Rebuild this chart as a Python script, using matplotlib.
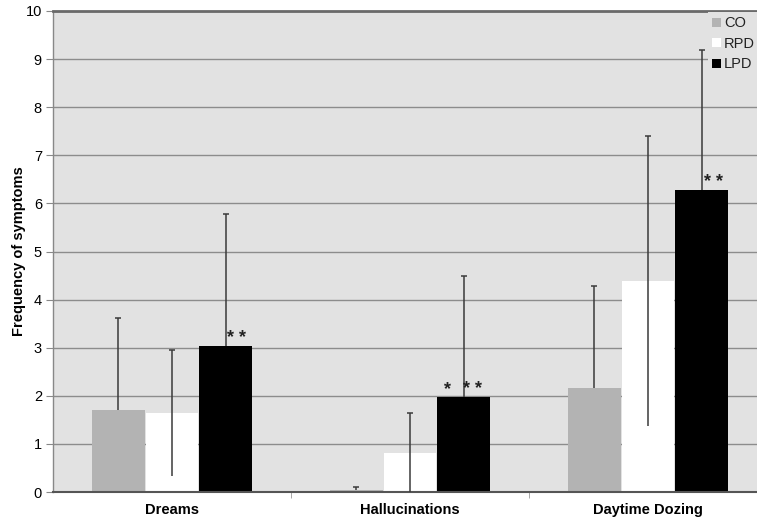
import numpy as np
import matplotlib
matplotlib.use("Agg")
import matplotlib.pyplot as plt
from matplotlib.patches import Patch

categories = ["Dreams", "Hallucinations", "Daytime Dozing"]
groups = ["CO", "RPD", "LPD"]
means = {
    "CO": [1.70, 0.04, 2.17],
    "RPD": [1.64, 0.82, 4.39],
    "LPD": [3.04, 1.98, 6.27],
}
sds = {
    "CO": [1.92, 0.07, 2.11],
    "RPD": [1.31, 0.82, 3.01],
    "LPD": [2.73, 2.52, 2.92],
}
# significance marks on LPD bars: (category index, label, x shift in bar widths)
stars = [(0, "* *", 0.2), (1, "*", -0.3), (1, "* *", 0.17), (2, "* *", 0.23)]

colors = {"CO": "#b3b3b3", "RPD": "#ffffff", "LPD": "#000000"}
bg = "#e2e2e2"

plt.rcParams.update({
    "font.family": ["Liberation Sans", "DejaVu Sans"],
    "font.size": 10.5,
})

fig = plt.figure(figsize=(7.57, 5.23), dpi=100)
ax = fig.add_axes([53 / 757, 31 / 523, 714 / 757, 481 / 523])
ax.set_facecolor(bg)

x = np.arange(len(categories))
width = 0.222
offsets = {"CO": -0.226, "RPD": 0.0, "LPD": 0.226}

for g in groups:
    xs = x + offsets[g]
    m = np.array(means[g])
    s = np.array(sds[g])
    ax.bar(xs, m, width=width, color=colors[g], edgecolor="none", zorder=2)
    eb = ax.errorbar(xs, m, yerr=[np.zeros_like(s), s], fmt="none", ecolor="#3a3a3a",
                     elinewidth=1.1, capsize=2.5, capthick=1.1, zorder=3)
    eb[1][0].set_visible(False)  # no cap at the bottom end
    if g == "RPD":
        ax.vlines(xs, np.maximum(m - s, 0), m, color="#3a3a3a", lw=1.1, zorder=3)

for i, lab, dx in stars:
    ax.text(x[i] + offsets["LPD"] + dx * width, means["LPD"][i] - 0.02, lab,
            ha="center", va="bottom", fontsize=13, fontweight="bold",
            color="#222222", zorder=4)

ax.set_xlim(-0.5, 2.5)
ax.set_ylim(0, 10)
ax.set_yticks(np.arange(0, 11, 1))
ax.yaxis.grid(True, color="#8c8c8c", lw=1.0)
ax.set_axisbelow(True)

ax.set_xticks(x)
ax.set_xticklabels(categories, fontweight="bold", fontsize=10.5)
ax.set_xticks([0.5, 1.5], minor=True)
ax.tick_params(axis="x", which="major", length=0, pad=8)
ax.tick_params(axis="x", which="minor", length=4, color="#999999")
ax.tick_params(axis="y", length=5, color="#888888", pad=3, labelsize=10.5)

ax.set_ylabel("Frequency of symptoms", fontweight="bold", fontsize=10.5, labelpad=0)

ax.spines["left"].set_color("#888888")
ax.spines["left"].set_linewidth(1.0)
ax.spines["top"].set_color("#6a6a6a")
ax.spines["top"].set_linewidth(2.0)
ax.spines["bottom"].set_color("#555555")
ax.spines["bottom"].set_linewidth(1.5)
ax.spines["right"].set_visible(False)

handles = [Patch(facecolor=colors[g], edgecolor="none") for g in groups]
leg = fig.legend(handles, groups, loc="upper left", bbox_to_anchor=(708 / 757, 1 - 12 / 523),
                 frameon=True, facecolor=bg, edgecolor="none", framealpha=1,
                 handlelength=0.6, handleheight=0.6, handletextpad=0.2,
                 labelspacing=0.45, borderpad=0.3, borderaxespad=0, fontsize=10.5)
leg.get_frame().set_boxstyle("square", pad=0)
for t in leg.get_texts():
    t.set_color("#222222")

fig.savefig("out.png", dpi=100)
